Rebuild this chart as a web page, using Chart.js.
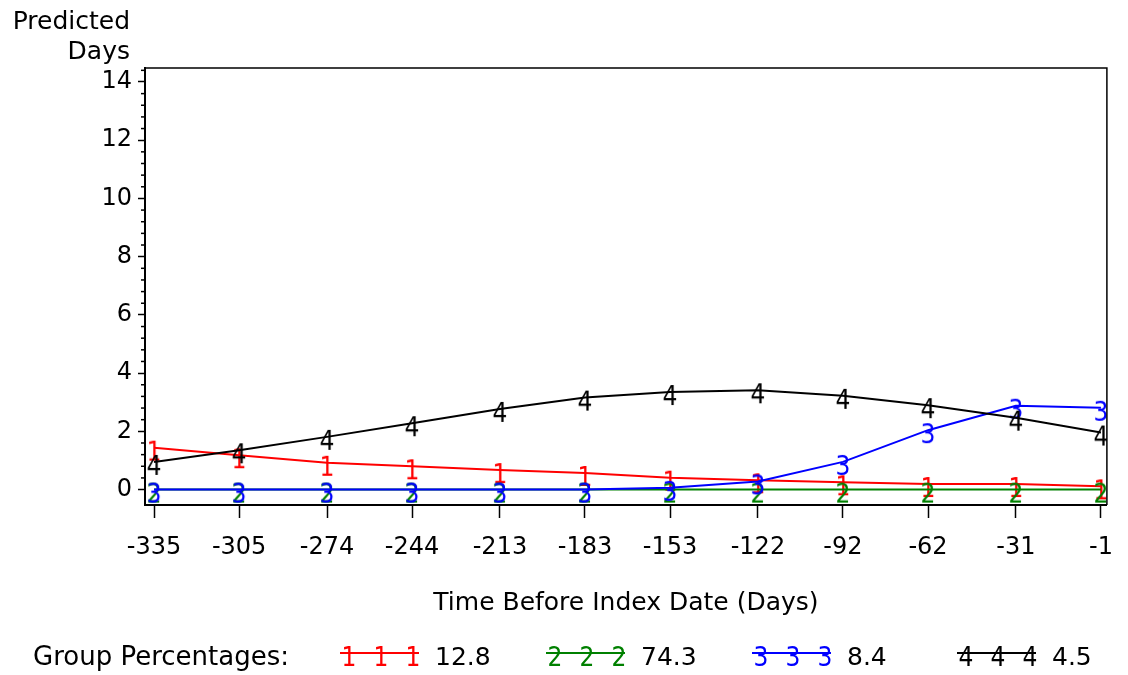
<!DOCTYPE html>
<html>
<head>
<meta charset="utf-8">
<script src="https://cdn.jsdelivr.net/npm/chart.js@4"></script>
<style>
    html, body { margin: 0; background: #fff; }
    #wrap { width: 1128px; height: 675px; }
</style>
</head>
<body>
<div id="wrap"><canvas id="chart"></canvas></div>
<script>
// ── data ────────────────────────────────────────────────────────────────
const days = [-335, -305, -274, -244, -213, -183, -153, -122, -92, -62, -31, -1];
const group1 = [1.44, 1.18, 0.92, 0.80, 0.67, 0.57, 0.41, 0.32, 0.25, 0.19, 0.19, 0.11];
const group2 = [0, 0, 0, 0, 0, 0, 0, 0, 0, 0, 0, 0];
const group3 = [0, 0, 0, 0, 0, 0, 0.06, 0.28, 0.95, 2.04, 2.88, 2.81];
const group4 = [0.95, 1.35, 1.81, 2.28, 2.77, 3.16, 3.35, 3.41, 3.22, 2.90, 2.47, 1.96];
const yTicks = [0, 2, 4, 6, 8, 10, 12, 14];
const groupPct = ['12.8', '74.3', '8.4', '4.5'];
const groupSymbols = ['1', '2', '3', '4'];
const groupColors = ['#ff0000', '#008000', '#0000ff', '#000000'];

const FONT = '"DejaVu Sans", Verdana, sans-serif';
const FONT_SIZE = 25;
const MARK_FONT = '"DejaVu Sans Condensed", "Liberation Sans Narrow", "DejaVu Sans", sans-serif';

// digit glyph used as the point marker, drawn so the point sits near its top
function makeMarker(sym, color) {
    const c = document.createElement('canvas');
    c.width = 24;
    c.height = 40;
    const g = c.getContext('2d');
    g.fillStyle = color;
    g.font = '26px ' + MARK_FONT;
    g.textAlign = 'center';
    g.textBaseline = 'alphabetic';
    g.fillText(sym, 12, 20 + 13);
    return c;
}

const markers = groupSymbols.map((s, i) => makeMarker(s, groupColors[i]));
const series = [group1, group2, group3, group4];

const datasets = series.map((vals, i) => ({
    label: groupPct[i],
    data: vals.map((v, k) => ({ x: days[k], y: v })),
    borderColor: groupColors[i],
    borderWidth: 2,
    pointStyle: markers[i],
    pointRadius: 10,
    tension: 0,
    fill: false,
    order: 4 - i
}));

// frame, minor y ticks, y title and the legend row underneath
const decorations = {
    id: 'decorations',
    afterDraw(chart) {
        const { ctx, chartArea: a, scales } = chart;
        const y = scales.y;
        ctx.save();

        ctx.strokeStyle = '#000';
        ctx.lineWidth = 1.5;
        ctx.beginPath();
        ctx.moveTo(a.left, a.top);
        ctx.lineTo(a.right, a.top);
        ctx.lineTo(a.right, a.bottom);
        ctx.stroke();

        for (let v = 0.4; v < y.max; v += 0.4) {
            const r = Math.round(v * 10) / 10;
            if (Math.abs(r / 2 - Math.round(r / 2)) < 0.01) continue;
            const py = y.getPixelForValue(r);
            ctx.beginPath();
            ctx.moveTo(a.left - 4, py);
            ctx.lineTo(a.left, py);
            ctx.stroke();
        }

        ctx.fillStyle = '#000';
        ctx.font = FONT_SIZE + 'px ' + FONT;
        ctx.textAlign = 'right';
        ctx.textBaseline = 'alphabetic';
        ctx.fillText('Predicted', 130, 29);
        ctx.fillText('Days', 130, 59);

        // legend
        const ly = 665;
        const lineY = 653;
        ctx.textAlign = 'left';
        ctx.font = '26px ' + FONT;
        ctx.fillText('Group Percentages:', 33, ly);
        ctx.font = FONT_SIZE + 'px ' + FONT;

        const starts = [340, 546, 752, 957];
        starts.forEach((x0, i) => {
            ctx.strokeStyle = groupColors[i];
            ctx.lineWidth = 2;
            ctx.beginPath();
            ctx.moveTo(x0, lineY);
            ctx.lineTo(x0 + 79, lineY);
            ctx.stroke();
            [9, 41, 73].forEach(dx => {
                const m = markers[i];
                ctx.drawImage(m, x0 + dx - m.width / 2, lineY - m.height / 2);
            });
            ctx.fillStyle = '#000';
            ctx.fillText(groupPct[i], x0 + 95, ly);
        });

        ctx.restore();
    }
};

new Chart(document.getElementById('chart'), {
    type: 'line',
    data: { datasets },
    options: {
        responsive: true,
        maintainAspectRatio: false,
        animation: false,
        layout: { padding: { top: 68, right: 15, bottom: 50, left: 0 } },
        plugins: {
            legend: { display: false },
            tooltip: { enabled: false }
        },
        scales: {
            x: {
                type: 'linear',
                min: -338.2,
                max: 1.1,
                afterBuildTicks: s => { s.ticks = days.map(v => ({ value: v })); },
                afterFit: s => { s.height = 120; },
                grid: { drawOnChartArea: false, drawTicks: true, tickLength: 13, color: '#000', tickWidth: 1.5 },
                border: { color: '#000', width: 2 },
                ticks: {
                    color: '#000',
                    padding: 15,
                    maxRotation: 0,
                    autoSkip: false,
                    font: { family: FONT, size: 24 },
                    callback: v => String(v)
                },
                title: {
                    display: true,
                    text: 'Time Before Index Date (Days)',
                    color: '#000',
                    font: { family: FONT, size: FONT_SIZE },
                    padding: { top: 0, bottom: 7 }
                }
            },
            y: {
                min: -0.53,
                max: 14.48,
                afterBuildTicks: s => { s.ticks = yTicks.map(v => ({ value: v })); },
                afterFit: s => { s.width = 145; },
                grid: { drawOnChartArea: false, drawTicks: true, tickLength: 7, color: '#000', tickWidth: 1.5 },
                border: { color: '#000', width: 2 },
                ticks: {
                    color: '#000',
                    padding: 6,
                    font: { family: FONT, size: 24 },
                    callback: v => String(v)
                }
            }
        }
    },
    plugins: [decorations]
});
</script>
</body>
</html>
